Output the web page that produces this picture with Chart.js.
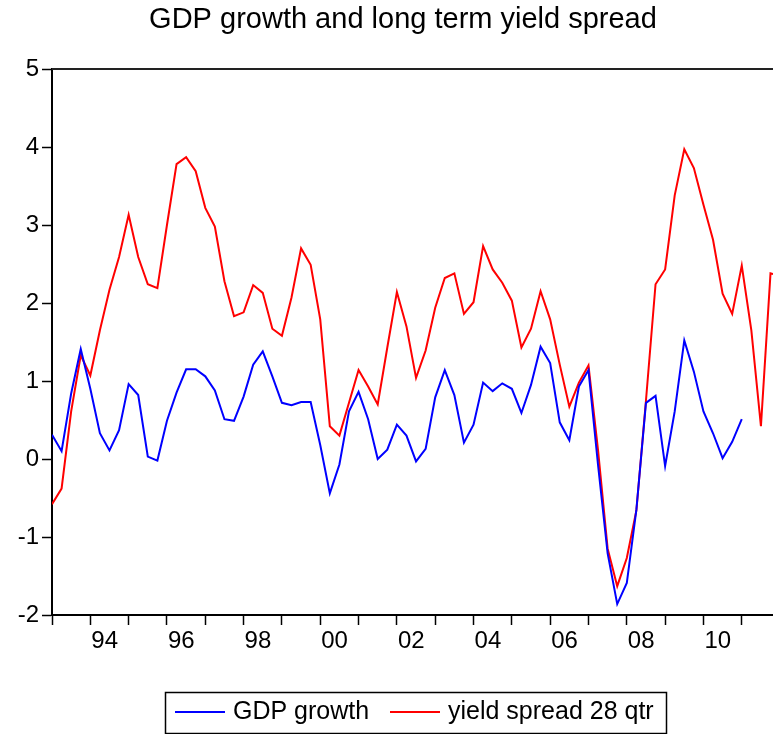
<!DOCTYPE html>
<html>
<head>
<meta charset="utf-8">
<title>GDP growth and long term yield spread</title>
<script src="https://cdn.jsdelivr.net/npm/chart.js@4.4.1/dist/chart.umd.min.js"></script>
<style>
    html, body { margin: 0; padding: 0; background: #fff; }
    canvas { display: block; }
</style>
</head>
<body>
<canvas id="spreadChart" width="773" height="734"></canvas>
<script>
// quarterly data, first observation 1993Q1 (index 0)
const startYear = 1993;
const gdpGrowth = [
    0.31, 0.10, 0.84, 1.41, 0.90, 0.33, 0.11, 0.37, 0.96, 0.82,
    0.03, -0.02, 0.49, 0.85, 1.15, 1.15, 1.06, 0.88, 0.51, 0.49,
    0.80, 1.21, 1.38, 1.06, 0.72, 0.69, 0.73, 0.73, 0.18, -0.44,
    -0.07, 0.61, 0.86, 0.51, 0.00, 0.12, 0.44, 0.30, -0.03, 0.13,
    0.79, 1.14, 0.82, 0.21, 0.44, 0.98, 0.87, 0.97, 0.90, 0.59,
    0.95, 1.44, 1.23, 0.47, 0.24, 0.93, 1.14, -0.08, -1.21, -1.86,
    -1.59, -0.65, 0.72, 0.81, -0.09, 0.61, 1.52, 1.12, 0.61, 0.33,
    0.01, 0.22, 0.51
];
const yieldSpread = [
    -0.58, -0.38, 0.61, 1.33, 1.07, 1.65, 2.17, 2.59, 3.13, 2.59,
    2.24, 2.19, 3.00, 3.78, 3.87, 3.69, 3.22, 2.98, 2.28, 1.83,
    1.88, 2.23, 2.13, 1.67, 1.58, 2.07, 2.70, 2.49, 1.79, 0.42,
    0.30, 0.72, 1.14, 0.93, 0.70, 1.43, 2.14, 1.70, 1.04, 1.39,
    1.94, 2.32, 2.38, 1.86, 2.01, 2.73, 2.43, 2.26, 2.03, 1.43,
    1.67, 2.15, 1.79, 1.21, 0.67, 0.98, 1.20, 0.11, -1.15, -1.63,
    -1.27, -0.66, 0.75, 2.24, 2.43, 3.38, 3.97, 3.73, 3.26, 2.81,
    2.12, 1.86, 2.48, 1.65, 0.42, 2.38, 2.35
];
const yearLabels = ['94', '96', '98', '00', '02', '04', '06', '08', '10'];
const yTicks = [5, 4, 3, 2, 1, 0, -1, -2];
const seriesNames = ['GDP growth', 'yield spread 28 qtr'];
const seriesColors = ['#0000ff', '#ff0000'];

document.addEventListener("DOMContentLoaded", function () {
    const font = "'Liberation Sans', Arial, sans-serif";
    const xMax = 75.26;

    // index of a quarter, counted from 1993Q1
    const qIndex = (year, q) => (year - startYear) * 4 + q;
    const toPoints = arr => arr.map((v, i) => ({ x: i, y: v }));

    // tick marks at the start of every year, labels in the middle of every second year
    const yearStarts = [];
    for (let y = startYear; qIndex(y, 0) <= xMax; y++) yearStarts.push(qIndex(y, 0));
    const labelPos = yearLabels.map((lab, k) => qIndex(1994 + 2 * k, 1.5));

    // title, top frame line and boxed legend drawn straight on the canvas
    const decorations = {
        id: 'decorations',
        afterDraw(chart) {
            const ctx = chart.ctx;
            const area = chart.chartArea;
            ctx.save();
            ctx.strokeStyle = '#222';
            ctx.lineWidth = 2;
            ctx.beginPath();
            ctx.moveTo(area.left, area.top);
            ctx.lineTo(773, area.top);
            ctx.stroke();

            ctx.fillStyle = '#000';
            ctx.font = '29px ' + font;
            ctx.textAlign = 'center';
            ctx.textBaseline = 'middle';
            ctx.fillText('GDP growth and long term yield spread', 403, 20);

            // legend
            ctx.lineWidth = 1.5;
            ctx.strokeStyle = '#000';
            ctx.strokeRect(165.5, 692.5, 501, 41);
            ctx.font = '25px ' + font;
            ctx.textAlign = 'left';
            const starts = [175, 390];
            seriesNames.forEach((name, k) => {
                ctx.strokeStyle = seriesColors[k];
                ctx.lineWidth = 2;
                ctx.beginPath();
                ctx.moveTo(starts[k], 712);
                ctx.lineTo(starts[k] + 50, 712);
                ctx.stroke();
                ctx.fillText(name, starts[k] + 58, 712);
            });
            ctx.restore();
        }
    };

    new Chart(document.getElementById("spreadChart").getContext("2d"), {
        type: "line",
        data: {
            datasets: [
                {
                    label: seriesNames[0],
                    data: toPoints(gdpGrowth),
                    borderColor: seriesColors[0],
                    borderWidth: 2,
                    pointRadius: 0,
                    tension: 0,
                    fill: false
                },
                {
                    label: seriesNames[1],
                    data: toPoints(yieldSpread),
                    borderColor: seriesColors[1],
                    borderWidth: 2,
                    pointRadius: 0,
                    tension: 0,
                    fill: false
                }
            ]
        },
        options: {
            responsive: false,
            animation: false,
            layout: { padding: { top: 69, right: 0, bottom: 0, left: 0 } },
            plugins: {
                legend: { display: false },
                tooltip: { enabled: false },
                title: { display: false }
            },
            scales: {
                x: {
                    type: 'linear',
                    min: 0,
                    max: xMax,
                    afterFit: scale => {
                        scale.height = 119;
                        scale.paddingLeft = 0;
                        scale.paddingRight = 0;
                    },
                    afterBuildTicks: scale => {
                        scale.ticks = yearStarts.concat(labelPos)
                            .sort((a, b) => a - b)
                            .map(v => ({ value: v }));
                    },
                    border: { display: true, color: '#000', width: 2 },
                    grid: {
                        drawOnChartArea: false,
                        drawTicks: true,
                        tickLength: 10,
                        tickWidth: 1.5,
                        tickColor: c => yearStarts.includes(c.tick.value) ? '#000' : 'rgba(0,0,0,0)'
                    },
                    ticks: {
                        autoSkip: false,
                        maxRotation: 0,
                        padding: 2,
                        color: '#000',
                        font: { family: font, size: 24 },
                        callback: v => {
                            const k = labelPos.indexOf(v);
                            return k >= 0 ? yearLabels[k] : '';
                        }
                    }
                },
                y: {
                    min: -2,
                    max: 5,
                    afterFit: scale => { scale.width = 52; },
                    afterBuildTicks: scale => {
                        scale.ticks = yTicks.map(v => ({ value: v }));
                    },
                    border: { display: true, color: '#000', width: 2 },
                    grid: {
                        drawOnChartArea: false,
                        drawTicks: true,
                        tickLength: 10,
                        tickWidth: 1.5,
                        tickColor: '#000'
                    },
                    ticks: {
                        padding: 3,
                        color: '#000',
                        font: { family: font, size: 24 }
                    }
                }
            }
        },
        plugins: [decorations]
    });
});
</script>
</body>
</html>
